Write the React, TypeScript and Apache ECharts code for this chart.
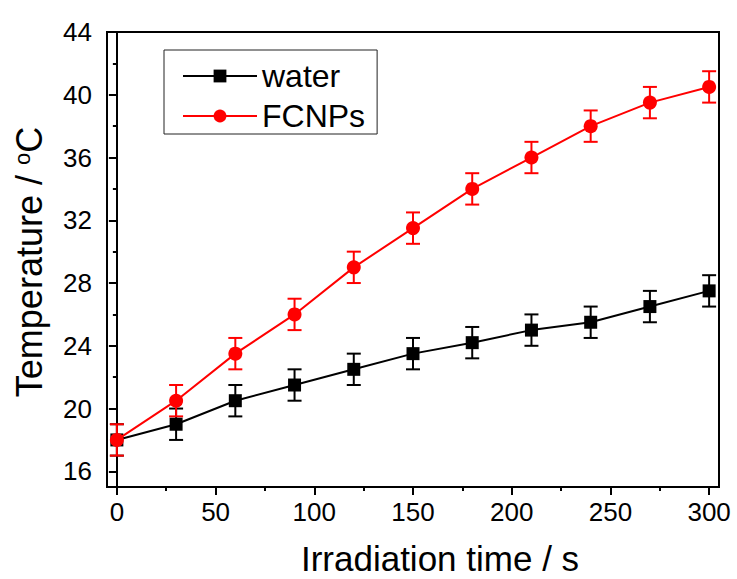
import React, { useEffect, useRef } from "react";
import * as echarts from "echarts";

const times = [0, 30, 60, 90, 120, 150, 180, 210, 240, 270, 300];
const waterTemp = [18, 19, 20.5, 21.5, 22.5, 23.5, 24.2, 25, 25.5, 26.5, 27.5];
const waterErr = [1, 1, 1, 1, 1, 1, 1, 1, 1, 1, 1];
const fcnpTemp = [18, 20.5, 23.5, 26, 29, 31.5, 34, 36, 38, 39.5, 40.5];
const fcnpErr = [1, 1, 1, 1, 1, 1, 1, 1, 1, 1, 1];
const xMajorTicks = [0, 50, 100, 150, 200, 250, 300];
const xMinorTicks = [25, 75, 125, 175, 225, 275];
const yMajorTicks = [16, 20, 24, 28, 32, 36, 40, 44];
const yMinorTicks = [18, 22, 26, 30, 34, 38, 42];

const FONT = "'Liberation Sans', Arial, Helvetica, sans-serif";

function errBars(color: string) {
  return (params: any, api: any) => {
    const x = api.value(0);
    const lo = api.coord([x, api.value(1)]);
    const hi = api.coord([x, api.value(2)]);
    const hw = 7;
    const style = { stroke: color, lineWidth: 2, fill: "none" };
    return {
      type: "group",
      children: [
        { type: "line", shape: { x1: lo[0], y1: lo[1], x2: hi[0], y2: hi[1] }, style },
        { type: "line", shape: { x1: lo[0] - hw, y1: lo[1], x2: lo[0] + hw, y2: lo[1] }, style },
        { type: "line", shape: { x1: hi[0] - hw, y1: hi[1], x2: hi[0] + hw, y2: hi[1] }, style },
      ],
    };
  };
}

export default function App() {
  const ref = useRef<HTMLDivElement>(null);
  useEffect(() => {
    if (!ref.current) return;
    const chart = echarts.init(ref.current, null, { renderer: "svg" });
    const waterData = times.map((t, i) => [t, waterTemp[i]]);
    const fcnpData = times.map((t, i) => [t, fcnpTemp[i]]);
    const waterErrData = times.map((t, i) => [t, waterTemp[i] - waterErr[i], waterTemp[i] + waterErr[i]]);
    const fcnpErrData = times.map((t, i) => [t, fcnpTemp[i] - fcnpErr[i], fcnpTemp[i] + fcnpErr[i]]);
    chart.setOption({
      animation: false,
      backgroundColor: "#fff",
      textStyle: { fontFamily: FONT },
      grid: {
        left: 107,
        right: 18,
        top: 32,
        bottom: 92,
        show: true,
        borderColor: "#000",
        borderWidth: 2,
        backgroundColor: "transparent",
      },
      xAxis: [
        {
          type: "value",
          min: -5,
          max: 305,
          position: "bottom",
          axisLine: { show: true, lineStyle: { color: "#000", width: 2 } },
          axisTick: { show: true, customValues: xMajorTicks, length: 8, lineStyle: { color: "#000", width: 2 } },
          axisLabel: { customValues: xMajorTicks, fontSize: 26, color: "#000", margin: 12, fontFamily: FONT },
          splitLine: { show: false },
        },
        {
          type: "value",
          min: -5,
          max: 305,
          position: "bottom",
          axisLine: { show: false },
          axisTick: { show: true, customValues: xMinorTicks, length: 4, lineStyle: { color: "#000", width: 2 } },
          axisLabel: { show: false },
          splitLine: { show: false },
        },
      ],
      yAxis: [
        {
          type: "value",
          min: 15,
          max: 44,
          position: "left",
          axisLine: { show: true, lineStyle: { color: "#000", width: 2 } },
          axisTick: { show: true, customValues: yMajorTicks, length: 8, lineStyle: { color: "#000", width: 2 } },
          axisLabel: { customValues: yMajorTicks, fontSize: 26, color: "#000", margin: 15, fontFamily: FONT },
          splitLine: { show: false },
        },
        {
          type: "value",
          min: 15,
          max: 44,
          position: "left",
          axisLine: { show: false },
          axisTick: { show: true, customValues: yMinorTicks, length: 4, lineStyle: { color: "#000", width: 2 } },
          axisLabel: { show: false },
          splitLine: { show: false },
        },
      ],
      legend: {
        data: ["water", "FCNPs"],
        orient: "vertical",
        left: 164,
        top: 50,
        padding: [10, 12, 2, 18],
        itemGap: 8,
        itemWidth: 74,
        itemHeight: 16,
        borderColor: "#222",
        borderWidth: 1,
        textStyle: { fontSize: 32, color: "#000", fontFamily: FONT, lineHeight: 32 },
      },
      graphic: [
        {
          type: "text",
          x: 440,
          y: 558,
          style: {
            text: "Irradiation time / s",
            font: `35px ${FONT}`,
            fill: "#000",
            textAlign: "center",
            textVerticalAlign: "middle",
          },
        },
        {
          type: "text",
          x: 29,
          y: 262,
          rotation: Math.PI / 2,
          style: {
            text: "Temperature / {sup|o}C",
            fontSize: 36,
            fontFamily: FONT,
            fill: "#000",
            align: "center",
            verticalAlign: "middle",
            rich: {
              sup: { fontSize: 22, fontFamily: FONT, fill: "#000", padding: [0, 0, 14, 0] },
            },
          },
        },
      ],
      series: [
        {
          name: "water err",
          type: "custom",
          xAxisIndex: 0,
          yAxisIndex: 0,
          z: 1,
          data: waterErrData,
          encode: { x: 0, y: [1, 2] },
          renderItem: errBars("#000"),
        },
        {
          name: "FCNPs err",
          type: "custom",
          xAxisIndex: 0,
          yAxisIndex: 0,
          z: 1,
          data: fcnpErrData,
          encode: { x: 0, y: [1, 2] },
          renderItem: errBars("#ff0000"),
        },
        {
          name: "water",
          type: "line",
          xAxisIndex: 0,
          yAxisIndex: 0,
          z: 3,
          data: waterData,
          symbol: "rect",
          symbolSize: 13,
          color: "#000",
          lineStyle: { color: "#000", width: 2 },
          itemStyle: { color: "#000" },
        },
        {
          name: "FCNPs",
          type: "line",
          xAxisIndex: 0,
          yAxisIndex: 0,
          z: 4,
          data: fcnpData,
          symbol: "circle",
          symbolSize: 14,
          color: "#ff0000",
          lineStyle: { color: "#ff0000", width: 2 },
          itemStyle: { color: "#ff0000" },
        },
      ],
    });
    return () => chart.dispose();
  }, []);
  return (
    <div
      ref={ref}
      style={{ position: "fixed", left: 0, top: 0, width: 737, height: 579, background: "#fff" }}
    />
  );
}
